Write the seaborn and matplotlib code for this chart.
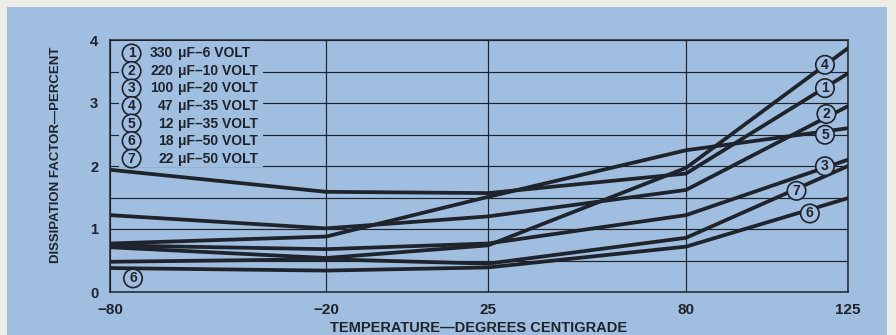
import numpy as np
import pandas as pd
import seaborn as sns
import matplotlib
matplotlib.use("Agg")
import matplotlib.pyplot as plt
from matplotlib.patches import Rectangle

# ---- data -------------------------------------------------------------
temps = [-80, -20, 25, 80, 125]
series_ids = ["1", "2", "3", "4", "5", "6", "7"]
cap_values = ["330", "220", "100", "47", "12", "18", "22"]
cap_ratings = ["\u03bcF\u20136 VOLT", "\u03bcF\u201310 VOLT", "\u03bcF\u201320 VOLT",
               "\u03bcF\u201335 VOLT", "\u03bcF\u201335 VOLT", "\u03bcF\u201350 VOLT",
               "\u03bcF\u201350 VOLT"]
df_1 = [1.94, 1.59, 1.57, 1.88, 3.47]
df_2 = [1.22, 1.01, 1.20, 1.62, 2.95]
df_3 = [0.74, 0.68, 0.77, 1.22, 2.10]
df_4 = [0.71, 0.54, 0.74, 1.97, 3.87]
df_5 = [0.77, 0.88, 1.51, 2.25, 2.60]
df_6 = [0.38, 0.34, 0.39, 0.72, 1.49]
df_7 = [0.48, 0.52, 0.45, 0.86, 2.00]
x_tick_labels = ["\u221280", "\u221220", "25", "80", "125"]
y_ticks = [0, 1, 2, 3, 4]

# end-of-curve tags: (series, temperature, value)
curve_tags = [("4", 118.6, 3.63), ("1", 118.6, 3.26), ("2", 119.0, 2.85),
              ("5", 118.6, 2.52), ("3", 118.6, 2.02), ("7", 110.7, 1.63),
              ("6", 114.4, 1.27), ("6", -73.6, 0.24)]

# ---- styling ----------------------------------------------------------
BLUE = "#a0bedf"
PAPER = "#eeece6"
INK = "#1f232c"

sns.set_theme(style="white")
plt.rcParams["font.family"] = ["Liberation Sans", "DejaVu Sans"]
plt.rcParams["font.weight"] = "bold"

long = pd.DataFrame({
    "temp": temps * 7,
    "value": df_1 + df_2 + df_3 + df_4 + df_5 + df_6 + df_7,
    "series": [s for s in series_ids for _ in temps],
})

fig = plt.figure(figsize=(8.96, 3.35), dpi=100, facecolor=PAPER)
fig.patches.append(Rectangle((7 / 896, 0), 880 / 896, 1 - 7 / 335,
                             transform=fig.transFigure, facecolor=BLUE,
                             edgecolor="none", zorder=-10))
ax = fig.add_axes([110 / 896, 1 - 292 / 335, 738 / 896, 252 / 335])
ax.set_zorder(1)
ax.set_facecolor(BLUE)
ax.set_axisbelow(True)

sns.lineplot(data=long, x="temp", y="value", hue="series",
             palette=[INK] * 7, legend=False, linewidth=2.7,
             sort=False, ax=ax, zorder=3)

ax.set_xlim(-80, 125)
ax.set_ylim(0, 4)
ax.set_xticks(temps)
ax.set_xticklabels(x_tick_labels, fontsize=11, fontweight="bold", color=INK)
ax.set_yticks(y_ticks)
ax.set_yticklabels([str(v) for v in y_ticks], fontsize=10.5,
                   fontweight="bold", color=INK)
ax.set_yticks(np.arange(0.5, 4, 1.0), minor=True)
ax.tick_params(axis="x", length=0, pad=8)
ax.tick_params(axis="y", which="major", length=6, width=1.0,
               direction="out", color=INK, pad=2.5)
ax.tick_params(axis="y", which="minor", length=0)

ax.grid(axis="y", which="both", color=INK, linewidth=0.85)
ax.grid(axis="x", which="major", color=INK, linewidth=0.85)
for sp in ax.spines.values():
    sp.set_visible(True)
    sp.set_color(INK)
    sp.set_linewidth(1.1)

ax.set_xlabel("TEMPERATURE\u2014DEGREES CENTIGRADE", fontsize=10.5,
              fontweight="bold", color=INK, labelpad=3)
ax.set_ylabel("DISSIPATION FACTOR\u2014PERCENT", fontsize=9.5,
              fontweight="bold", color=INK)
ax.yaxis.set_label_coords(-0.065, 0.545)

# key panel in the upper-left corner
ax.add_patch(Rectangle((-77.5, 1.98), 40.0, 2.0, facecolor=BLUE,
                       edgecolor="none", zorder=1.5))
circle_box = dict(boxstyle="circle,pad=0.16", facecolor=BLUE,
                  edgecolor=INK, linewidth=1.2)
for i, (sid, num, rating) in enumerate(zip(series_ids, cap_values, cap_ratings)):
    yk = 3.81 - 0.278 * i
    ax.text(-74.0, yk, sid, ha="center", va="center_baseline", fontsize=10,
            fontweight="bold", color=INK, bbox=circle_box, zorder=4)
    ax.text(-62.4, yk, num, ha="right", va="center_baseline", fontsize=10,
            fontweight="bold", color=INK, zorder=4)
    ax.text(-61.0, yk, rating, ha="left", va="center_baseline", fontsize=10,
            fontweight="bold", color=INK, zorder=4)

for sid, tx, ty in curve_tags:
    ax.text(tx, ty, sid, ha="center", va="center_baseline", fontsize=10,
            fontweight="bold", color=INK, bbox=circle_box, zorder=5)

fig.savefig("out.png", dpi=100, facecolor=PAPER)
